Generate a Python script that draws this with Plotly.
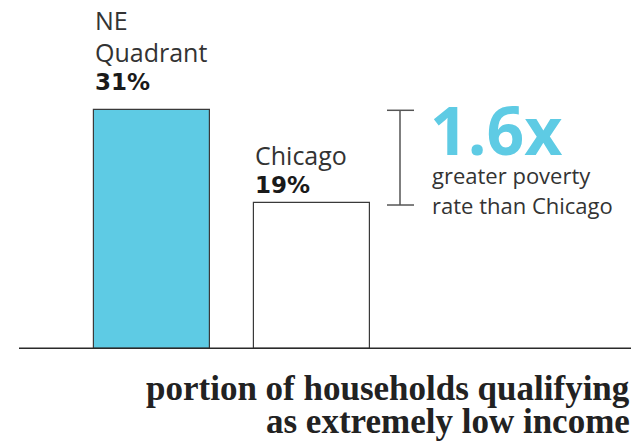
import plotly.graph_objects as go

categories = ["NE Quadrant", "Chicago"]
label_lines = [["NE", "Quadrant"], ["Chicago"]]
values = [31, 19]
value_labels = ["31%", "19%"]
bar_colors = ["#5ECBE4", "#FFFFFF"]
ratio_label = "1.6x"
ratio_lines = ["greater poverty", "rate than Chicago"]
title_lines = ["portion of households qualifying", "as extremely low income"]

W, H = 631, 443
PX_PER_CAT = 160.0
C0 = 152.0
BOTTOM_PX = 349
Y_PX_PER_UNIT = 7.7

def xd(px):
    return (px - C0) / PX_PER_CAT

def yd(px):
    return (BOTTOM_PX - px) / Y_PX_PER_UNIT

xs = list(range(len(categories)))
bar_w = 116 / PX_PER_CAT

fig = go.Figure()
fig.add_trace(go.Bar(
    x=xs, y=values, width=bar_w,
    marker=dict(color=bar_colors, line=dict(color="#3a3a3a", width=1.2)),
    hoverinfo="skip",
))

txt = "#333333"
sans = "Open Sans, Lato, sans-serif"
ann = []
name_shifts = [[90, 58], [48]]
pct_shifts = [28, 18]
for i, v in enumerate(values):
    left = xs[i] - bar_w / 2
    for line, sh in zip(label_lines[i], name_shifts[i]):
        ann.append(dict(x=left, y=v, xref="x", yref="y", text=line, showarrow=False,
                        xanchor="left", yanchor="middle", yshift=sh, xshift=-1,
                        font=dict(family=sans, size=25, color=txt)))
    ann.append(dict(x=left, y=v, xref="x", yref="y", text="<b>%s</b>" % value_labels[i],
                    showarrow=False, xanchor="left", yanchor="middle", yshift=pct_shifts[i], xshift=-1,
                    font=dict(family="DejaVu Sans, sans-serif", size=23, color="#1a1a1a")))

ann.append(dict(x=xd(428), y=yd(129), xref="x", yref="y", text="<b>%s</b>" % ratio_label,
                showarrow=False, xanchor="left", yanchor="middle",
                font=dict(family=sans, size=66, color="#5ECBE4")))
for line, ypx in zip(ratio_lines, [175, 205]):
    ann.append(dict(x=xd(430), y=yd(ypx), xref="x", yref="y", text=line, showarrow=False,
                    xanchor="left", yanchor="middle",
                    font=dict(family=sans, size=22, color=txt)))

for line, ypx in zip(title_lines, [388, 421]):
    ann.append(dict(x=1.0, y=(BOTTOM_PX - ypx) / BOTTOM_PX, xref="paper", yref="paper",
                    text="<b>%s</b>" % line, showarrow=False, xanchor="right", yanchor="middle",
                    xshift=1,
                    font=dict(family="Liberation Serif, serif", size=35, color="#222222")))

shapes = []
bx = xd(400)
shapes.append(dict(type="line", xref="x", yref="y", x0=bx, x1=bx, y0=values[1] - 0.3, y1=values[0],
                   line=dict(color="#555555", width=1.5)))
for yv in [values[0], values[1] - 0.3]:
    shapes.append(dict(type="line", xref="x", yref="y", x0=xd(387), x1=xd(414), y0=yv, y1=yv,
                       line=dict(color="#555555", width=1.5)))
shapes.append(dict(type="line", xref="x", yref="y", x0=xd(19), x1=xd(631), y0=0, y1=0,
                   line=dict(color="#2a2a2a", width=3)))

fig.update_layout(
    width=W, height=H,
    margin=dict(l=0, r=0, t=0, b=H - BOTTOM_PX),
    paper_bgcolor="white", plot_bgcolor="white",
    showlegend=False,
    xaxis=dict(range=[xd(0), xd(W)], visible=False, fixedrange=True),
    yaxis=dict(range=[0, BOTTOM_PX / Y_PX_PER_UNIT], visible=False, fixedrange=True),
    annotations=ann, shapes=shapes,
    bargap=0,
)
fig.write_html("out.html", config={"displayModeBar": False},
               post_script="document.body.style.margin='0';document.body.style.overflow='hidden';")
